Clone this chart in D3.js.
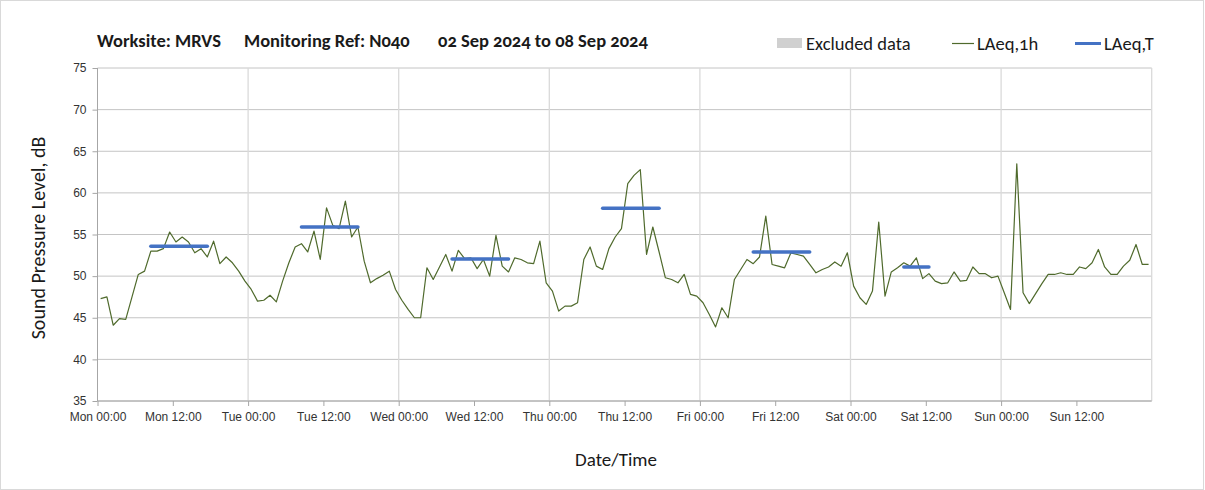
<!DOCTYPE html>
<html lang="en">
<head>
  <meta charset="UTF-8">
  <title>Noise monitoring N040</title>
  <script src="https://d3js.org/d3.v7.min.js"></script>
  <style>
    body { margin: 0; background: #fff; font-family: Carlito, Lato, "Open Sans", sans-serif; }
    svg { display: block; }
    text { font-variant-numeric: oldstyle-nums; fill: #1a1a1a; }
    .tick text { font-size: 12px; fill: #333; }
    .axis path, .axis line { stroke: #a6a6a6; }
  </style>
</head>
<body>
<svg width="1205" height="490"></svg>
<script>
// hourly LAeq,1h, Mon 00:00 -> Sun 23:00
const laeq1h = [
  47.3, 47.5, 44.1, 44.9, 44.8, 47.5, 50.2, 50.6, 53.0, 53.0, 53.3, 55.3,
  54.1, 54.7, 54.1, 52.8, 53.3, 52.3, 54.2, 51.5, 52.3, 51.6, 50.6, 49.4,
  48.4, 47.0, 47.1, 47.7, 46.9, 49.4, 51.6, 53.5, 53.9, 52.9, 55.4, 52.0,
  58.2, 56.1, 55.7, 59.0, 54.7, 55.9, 51.8, 49.2, 49.7, 50.1, 50.6, 48.4,
  47.1, 46.0, 45.0, 45.0, 51.0, 49.6, 51.1, 52.6, 50.6, 53.1, 52.1, 52.2,
  50.9, 52.0, 50.0, 54.9, 51.2, 50.5, 52.2, 52.0, 51.6, 51.5, 54.2, 49.2,
  48.2, 45.8, 46.4, 46.4, 46.8, 52.0, 53.5, 51.2, 50.8, 53.3, 54.7, 55.7,
  61.1, 62.1, 62.8, 52.6, 55.9, 52.9, 49.8, 49.6, 49.2, 50.2, 47.8, 47.6,
  46.8, 45.4, 43.9, 46.2, 45.0, 49.6, 50.8, 52.0, 51.5, 52.3, 57.2, 51.4,
  51.2, 51.0, 52.8, 52.6, 52.4, 51.4, 50.4, 50.8, 51.1, 51.7, 51.2, 52.8,
  48.8, 47.4, 46.6, 48.2, 56.5, 47.6, 50.5, 51.0, 51.6, 51.2, 52.2, 49.7,
  50.3, 49.4, 49.1, 49.2, 50.5, 49.4, 49.5, 51.1, 50.3, 50.3, 49.8, 50.0,
  48.0, 46.0, 63.5, 48.0, 46.7, 47.9, 49.1, 50.2, 50.2, 50.4, 50.2, 50.2,
  51.1, 50.9, 51.6, 53.2, 51.1, 50.2, 50.2, 51.2, 51.9, 53.8, 51.4, 51.4
];

// LAeq,T per day period (day index, first hour, last hour, level)
const laeqTDay   = [0, 1, 2, 3, 4, 5];
const laeqTFrom  = [8, 8, 8, 8, 8, 8];
const laeqTTo    = [17, 17, 17, 17, 17, 12];
const laeqTValue = [53.6, 55.9, 52.05, 58.15, 52.9, 51.1];

const dayNames = ["Mon", "Tue", "Wed", "Thu", "Fri", "Sat", "Sun"];
const yTicks = [35, 40, 45, 50, 55, 60, 65, 70, 75];

const svg = d3.select("svg");
const W = 1205, H = 490;
const m = { left: 97.5, right: 1151.7, top: 68, bottom: 401 };

// outer frame
svg.append("rect")
  .attr("x", 0.5).attr("y", 0.5)
  .attr("width", W - 2).attr("height", H - 1)
  .attr("fill", "none").attr("stroke", "#d9d9d9");

const x = d3.scaleLinear().domain([0, 168]).range([m.left, m.right]);
const y = d3.scaleLinear().domain([35, 75]).range([m.bottom, m.top]);

const g = svg.append("g");

// horizontal grid
g.selectAll(".hgrid").data(yTicks).enter().append("line")
  .attr("x1", m.left).attr("x2", m.right)
  .attr("y1", d => y(d)).attr("y2", d => y(d))
  .attr("stroke", "#c4c4c4").attr("stroke-width", 1);

// vertical grid at midnight
g.selectAll(".vgrid").data(d3.range(24, 169, 24)).enter().append("line")
  .attr("x1", d => x(d)).attr("x2", d => x(d))
  .attr("y1", m.top).attr("y2", m.bottom)
  .attr("stroke", "#dadada").attr("stroke-width", 1.3);

// x axis
const xAxis = d3.axisBottom(x)
  .tickValues(d3.range(0, 168, 12))
  .tickSize(5)
  .tickPadding(6)
  .tickFormat(h => dayNames[Math.floor(h / 24)] + " " + (h % 24 === 0 ? "00:00" : "12:00"));
g.append("g").attr("class", "axis")
  .attr("transform", `translate(0,${m.bottom})`)
  .call(xAxis)
  .call(a => a.select(".domain").attr("d", `M${m.left},0H${m.right}`));

// y axis
const yAxis = d3.axisLeft(y).tickValues(yTicks).tickSize(5).tickPadding(6);
g.append("g").attr("class", "axis")
  .attr("transform", `translate(${m.left},0)`)
  .call(yAxis)
  .call(a => a.select(".domain").attr("d", `M0,${m.top}V${m.bottom}`));

// LAeq,1h line
const line = d3.line()
  .x((d, i) => x(i + 0.5))
  .y(d => y(d));
g.append("path")
  .datum(laeq1h)
  .attr("fill", "none")
  .attr("stroke", "#4f6a2c")
  .attr("stroke-width", 1.2)
  .attr("stroke-linejoin", "round")
  .attr("d", line);

// LAeq,T segments
g.selectAll(".laeqT").data(laeqTDay).enter().append("line")
  .attr("x1", (d, i) => x(d * 24 + laeqTFrom[i] + 0.5))
  .attr("x2", (d, i) => x(d * 24 + laeqTTo[i] + 0.5))
  .attr("y1", (d, i) => y(laeqTValue[i]))
  .attr("y2", (d, i) => y(laeqTValue[i]))
  .attr("stroke", "#4472c4")
  .attr("stroke-width", 3.5)
  .attr("stroke-linecap", "round");

// title
const title = svg.append("g").attr("font-weight", "bold").attr("font-size", 18.5);
title.append("text").attr("x", 97).attr("y", 47).text("Worksite: MRVS");
title.append("text").attr("x", 244).attr("y", 47).text("Monitoring Ref: N040");
title.append("text").attr("x", 438).attr("y", 47).text("02 Sep 2024 to 08 Sep 2024");

// legend
const leg = svg.append("g").attr("font-size", 18.5);
leg.append("rect").attr("x", 777).attr("y", 38).attr("width", 25).attr("height", 10).attr("fill", "#d0d0d0");
leg.append("text").attr("x", 806).attr("y", 50).text("Excluded data");
leg.append("line").attr("x1", 952).attr("x2", 974).attr("y1", 43.5).attr("y2", 43.5)
  .attr("stroke", "#4f6a2c").attr("stroke-width", 1.2);
leg.append("text").attr("x", 977).attr("y", 50).text("LAeq,1h");
leg.append("line").attr("x1", 1075).attr("x2", 1101).attr("y1", 43.5).attr("y2", 43.5)
  .attr("stroke", "#4472c4").attr("stroke-width", 3);
leg.append("text").attr("x", 1104).attr("y", 50).text("LAeq,T");

// axis titles
svg.append("text")
  .attr("transform", "translate(45,238) rotate(-90)")
  .attr("text-anchor", "middle").attr("font-size", 20)
  .text("Sound Pressure Level, dB");
svg.append("text")
  .attr("x", 616).attr("y", 466)
  .attr("text-anchor", "middle").attr("font-size", 19)
  .text("Date/Time");
</script>
</body>
</html>
